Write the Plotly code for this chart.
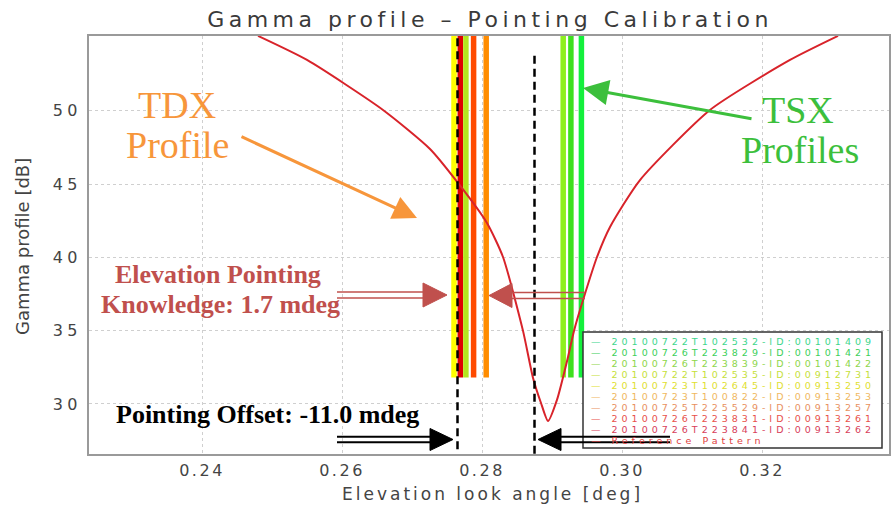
import plotly.graph_objects as go

# ---------------- data ----------------
ref_x_left = [0.24800, 0.25500, 0.26586, 0.27257, 0.27657, 0.28071, 0.28300, 0.28586, 0.28729, 0.28843, 0.28943]
ref_y_left = [55.10, 53.46, 50.05, 47.39, 45.07, 42.34, 40.02, 34.98, 31.77, 30.06, 28.83]
ref_x_right = [0.29071, 0.29229, 0.29314, 0.29457, 0.29643, 0.29829, 0.30257, 0.31257, 0.32400, 0.33086]
ref_y_right = [30.27, 33.20, 34.98, 37.29, 40.02, 42.07, 45.27, 50.05, 53.46, 55.10]

tdx_x = [0.2760, 0.2769, 0.2777, 0.2788, 0.2806]
tdx_colors = ["#ffff00", "#e00000", "#b4e61e", "#ff4a00", "#ff8c00"]
tsx_x = [0.2916, 0.2927, 0.2942]
tsx_colors = ["#8ef01e", "#3ee01e", "#14f03c"]
bar_bottom = 31.8
bar_top = 55.1

tdx_pointing_x = 0.2765
ref_null_x = 0.2875

legend_labels = [
    "20100722T102532-ID:00101409",
    "20100726T223829-ID:00101421",
    "20100726T223839-ID:00101422",
    "20100722T102535-ID:00912731",
    "20100723T102645-ID:00913250",
    "20100723T100822-ID:00913253",
    "20100725T225529-ID:00913257",
    "20100726T223831-ID:00913261",
    "20100726T223841-ID:00913262",
    "Reference Pattern",
]
legend_colors = ["#3dd68c", "#3ccf5a", "#8ed64a", "#c6df3a", "#e0e030",
                 "#f0b860", "#e89060", "#e8504a", "#d8405a", "#e04040"]

x_tickvals = [0.24, 0.26, 0.28, 0.30, 0.32]
x_ticktext = ["0.24", "0.26", "0.28", "0.30", "0.32"]
y_tickvals = [30, 35, 40, 45, 50]
y_ticktext = ["30", "35", "40", "45", "50"]

# ---------------- layout helpers (pixel -> paper) ----------------
W, H = 891, 509
ML, MR, MT, MB = 89, 2, 36, 55
PW, PH = W - ML - MR, H - MT - MB


def P(px):
    return (px - ML) / PW


def Q(py):
    return (H - MB - py) / PH


def spaced(s, px):
    return "<span style='letter-spacing:%spx'>%s</span>" % (px, s)


fig = go.Figure()

for xv, c in zip(tdx_x + tsx_x, tdx_colors + tsx_colors):
    fig.add_trace(go.Scatter(x=[xv, xv], y=[bar_bottom, bar_top], mode="lines",
                             line=dict(color=c, width=5.5), showlegend=False, hoverinfo="skip"))

fig.add_trace(go.Scatter(x=ref_x_left + ref_x_right, y=ref_y_left + ref_y_right, mode="lines",
                         line=dict(color="#d8232a", width=2, shape="spline", smoothing=0.6),
                         showlegend=False))

fig.add_trace(go.Scatter(x=[tdx_pointing_x, tdx_pointing_x], y=[26.9, 55.1], mode="lines",
                         line=dict(color="black", width=2.5, dash="8px,5px"), showlegend=False))
fig.add_trace(go.Scatter(x=[ref_null_x, ref_null_x], y=[26.6, 54.0], mode="lines",
                         line=dict(color="black", width=2.5, dash="8px,5px"), showlegend=False))

shapes = []
annotations = []

# legend box
shapes.append(dict(type="rect", xref="paper", yref="paper", x0=P(583), x1=P(882), y0=Q(332), y1=Q(448),
                   fillcolor="white", line=dict(color="#333333", width=1.5), layer="above"))


def tri(x_base, x_tip, y, half, color):
    path = "M {},{} L {},{} L {},{} Z".format(P(x_base), Q(y - half), P(x_base), Q(y + half), P(x_tip), Q(y))
    shapes.append(dict(type="path", xref="paper", yref="paper", path=path, fillcolor=color,
                       line=dict(color=color, width=1), layer="above"))


def shaft(x0, x1, y, color, w):
    shapes.append(dict(type="line", xref="paper", yref="paper", x0=P(x0), x1=P(x1), y0=Q(y), y1=Q(y),
                       line=dict(color=color, width=w), layer="above"))


def double_arrow(x_start, x_base, x_tip, y, gap, half, color, w):
    tri(x_base, x_tip, y, half, color)
    shaft(x_start, x_base, y - gap / 2, color, w)
    shaft(x_start, x_base, y + gap / 2, color, w)


red = "#c0504d"
double_arrow(337, 423, 447, 295, 6, 12, red, 1.6)
double_arrow(585, 512, 489, 295.5, 6, 12, red, 1.6)
double_arrow(337, 430, 453, 439.5, 5.5, 11, "black", 2.2)
double_arrow(670, 561, 538, 439.5, 5.5, 11, "black", 2.2)

# legend rows
for i, (lab, col) in enumerate(zip(legend_labels, legend_colors)):
    annotations.append(dict(x=P(589), y=Q(341 + i * 11.1), xref="paper", yref="paper",
                            text=spaced("— " + lab, 4), showarrow=False, xanchor="left", yanchor="middle",
                            font=dict(family="DejaVu Sans", size=9.5, color=col)))

serif = "Liberation Serif"
orange = "#f7963b"
green = "#3cbf3c"


def txt(s, cx, cy, size, color, bold=False):
    annotations.append(dict(x=P(cx), y=Q(cy), xref="paper", yref="paper",
                            text=("<b>%s</b>" % s) if bold else s, showarrow=False,
                            xanchor="center", yanchor="middle",
                            font=dict(family=serif, size=size, color=color)))


txt("TDX", 177, 105, 38, orange)
txt("Profile", 177, 145, 38, orange)
txt("TSX", 798, 110, 38, green)
txt("Profiles", 800, 150, 38, green)
txt("Elevation Pointing", 218, 274, 26, red, True)
txt("Knowledge: 1.7 mdeg", 220, 304, 26, red, True)
txt("Pointing Offset: -11.0 mdeg", 267, 414, 26, "black", True)

# orange and green pointer arrows
annotations.append(dict(x=P(417), y=Q(218), xref="paper", yref="paper", ax=240 - 417, ay=136 - 218,
                        text="", showarrow=True, arrowhead=2, arrowwidth=3, arrowsize=1.6,
                        arrowcolor=orange, standoff=0))
annotations.append(dict(x=P(583), y=Q(88), xref="paper", yref="paper", ax=753 - 583, ay=119 - 88,
                        text="", showarrow=True, arrowhead=2, arrowwidth=3, arrowsize=1.7,
                        arrowcolor=green, standoff=0))

# axis titles
annotations.append(dict(x=P(492), y=Q(494), xref="paper", yref="paper",
                        text=spaced("Elevation look angle [deg]", 3),
                        showarrow=False, xanchor="center", yanchor="middle",
                        font=dict(family="DejaVu Sans", size=17, color="#444444")))
annotations.append(dict(x=P(22), y=Q(247), xref="paper", yref="paper", text="Gamma profile [dB]",
                        showarrow=False, xanchor="center", yanchor="middle", textangle=-90,
                        font=dict(family="DejaVu Sans", size=18, color="#444444")))

x0 = 0.24 - (202 - ML) / 7000
x1 = 0.24 + (ML + PW - 202) / 7000
y0 = 50 - (H - MB - 110.7) / 14.66
y1 = 50 + (110.7 - MT) / 14.66

axis_common = dict(showgrid=True, gridcolor="#cfcfcf", gridwidth=1, griddash="dot",
                   showline=True, mirror=True, linecolor="#9a9a9a", linewidth=1.5,
                   zeroline=False, ticks="",
                   tickfont=dict(family="DejaVu Sans", size=16, color="#444444"))

fig.update_layout(
    width=W, height=H,
    margin=dict(l=ML, r=MR, t=MT, b=MB, autoexpand=False),
    paper_bgcolor="white", plot_bgcolor="white",
    showlegend=False,
    title=dict(text=spaced("Gamma profile – Pointing Calibration", 4.5), x=490 / W, xanchor="center",
               y=1 - 19 / H, yanchor="middle",
               font=dict(family="DejaVu Sans", size=22, color="#3a3a3a")),
    xaxis=dict(range=[x0, x1], tickvals=x_tickvals, ticktext=[spaced(t, 2.5) for t in x_ticktext],
               ticklabelstandoff=1, **axis_common),
    yaxis=dict(range=[y0, y1], tickvals=y_tickvals, ticktext=[spaced(t, 4.5) for t in y_ticktext],
               ticklabelstandoff=2, **axis_common),
    shapes=shapes,
    annotations=annotations,
)

fig.write_html("out.html")
